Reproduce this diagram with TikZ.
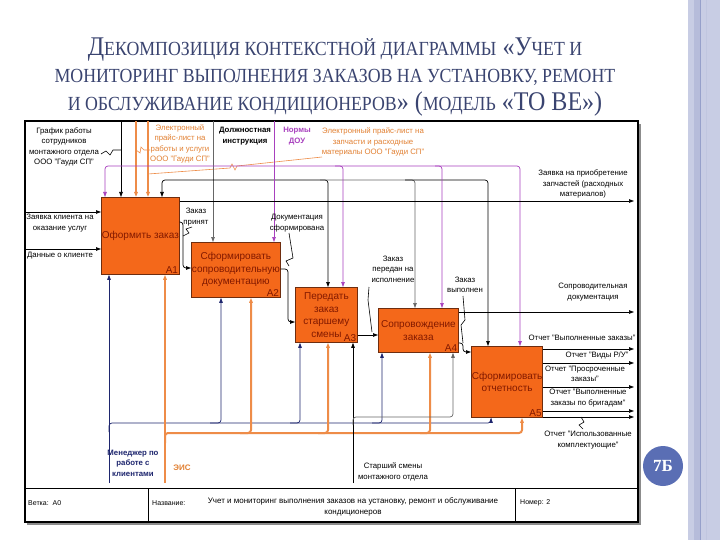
\documentclass[tikz,border=0pt]{standalone}
\usepackage{fontspec}
\setmainfont{Liberation Sans}
\newfontfamily\titlefont[FakeStretch=0.89]{Liberation Serif}
\newfontfamily\badgefont{Liberation Serif}
\usetikzlibrary{arrows.meta}
\definecolor{boxfill}{RGB}{244,104,26}
\definecolor{boxline}{RGB}{110,45,15}
\definecolor{boxtext}{RGB}{130,25,0}
\definecolor{ttl}{RGB}{58,68,112}
\definecolor{ora}{RGB}{238,140,72}
\definecolor{oratext}{RGB}{226,128,50}
\definecolor{pur}{RGB}{168,64,190}
\definecolor{nav}{RGB}{30,38,110}
\definecolor{badge}{RGB}{90,110,180}
\definecolor{strip}{RGB}{200,205,228}
\definecolor{stripdk}{RGB}{150,160,202}
\newcommand\sm[1]{{\fontsize{20}{27}\selectfont #1}}

\begin{document}
\begin{tikzpicture}[x=1pt,y=-1pt,
  box/.style={draw=boxline,line width=0.8pt,fill=boxfill,text=boxtext,
    font=\fontsize{10}{12.5}\selectfont,align=center,inner sep=0.5pt,anchor=north west},
  num/.style={anchor=south east,text=boxtext,font=\fontsize{10}{10}\selectfont,inner sep=1.5pt},
  lbl/.style={font=\fontsize{7.8}{10.5}\selectfont,align=center,inner sep=0pt},
  foot/.style={font=\fontsize{7}{11}\selectfont,align=center,inner sep=0pt},
  arr/.style={-{Triangle[length=5pt,width=3.5pt]},line width=0.7pt,rounded corners=3pt},
  blk/.style={arr,black},
  gry/.style={arr,black!60},
  pline/.style={arr,pur},
  oline/.style={arr,ora,line width=2pt},
  nline/.style={arr,nav},
  zig/.style={line width=0.6pt}]
\useasboundingbox (0,0) rectangle (720,540);
\fill[white] (0,0) rectangle (720,540);
\fill[strip] (688,0) rectangle (720,540);
\fill[stripdk!70] (694,0) rectangle (701,540);
\draw[stripdk,line width=0.8pt] (700,0) -- (700,540);
\draw[stripdk!60,line width=0.6pt] (706,0) -- (706,540);

\node[text=ttl,font=\titlefont\fontsize{27}{27.5}\selectfont,align=center] (title) at (335,77)
  {Д\sm{ЕКОМПОЗИЦИЯ КОНТЕКСТНОЙ ДИАГРАММЫ} «У\sm{ЧЕТ И}\\
   \sm{МОНИТОРИНГ ВЫПОЛНЕНИЯ ЗАКАЗОВ НА УСТАНОВКУ, РЕМОНТ}\\
   \sm{И ОБСЛУЖИВАНИЕ КОНДИЦИОНЕРОВ}» (\sm{МОДЕЛЬ} «ТО ВЕ»)};

\fill[black!45] (27,124) rectangle (641,525);
\draw[line width=1.2pt,fill=white] (25,121) rectangle (638,522);
\draw[line width=1pt] (25,488) -- (638,488);
\draw[line width=1pt] (148,488) -- (148,522);
\draw[line width=1pt] (515,488) -- (515,522);
\node[foot,anchor=west] (f1) at (28,503) {Ветка:\ \ А0};
\node[foot,anchor=west] (f2) at (152,503) {Название:};
\node[foot,font=\fontsize{8}{11}\selectfont] (f3) at (353,507) {Учет и мониторинг выполнения заказов на установку, ремонт и обслуживание\\кондиционеров};
\node[foot,anchor=west] (f4) at (520,503) {Номер: 2};

\node[box,minimum width=72pt,minimum height=77pt] (a1) at (101,197) {Оформить заказ};
\node[box,minimum width=86pt,minimum height=55pt] (a2) at (191,242) {Сформировать\\сопроводительную\\документацию};
\node[box,minimum width=62pt,minimum height=55pt] (a3) at (295,287) {Передать\\заказ\\старшему\\смены};
\node[box,minimum width=80pt,minimum height=44pt] (a4) at (378,308) {Сопровождение\\заказа};
\node[box,minimum width=67pt,minimum height=71pt] (a5) at (471,346) {Сформировать\\отчетность};
\node[num] (n1) at (a1.south east) {А1};
\node[num] (n2) at (a2.south east) {А2};
\node[num] (n3) at (a3.south east) {А3};
\node[num] (n4) at (a4.south east) {А4};
\node[num] (n5) at (a5.south east) {А5};

\coordinate (in1) at (25,212);
\coordinate (in2) at (25,249);
\draw[blk] (in1) -- (in1 -| a1.west);
\draw[blk] (in2) -- (in2 -| a1.west);
\node[lbl] (l1) at (60,223) {Заявка клиента на\\оказание услуг};
\node[lbl] (l2) at (60,256) {Данные о клиенте};

\coordinate (c1) at (121,121);
\coordinate (c2) at (136,121);
\coordinate (c3) at (148,121);
\coordinate (c4) at (213,121);
\coordinate (c5) at (274,121);
\draw[blk] (c1) -- (c1 |- a1.north);
\draw[oline] (c2) -- (c2 |- a1.north);
\draw[oline] (c3) -- (c3 |- a1.north);
\node[lbl] (l3) at (64,147) {График работы\\сотрудников\\монтажного отдела\\ООО "Гауди СП"};
\draw[zig] (101,154) -- (106,151) -- (110,155) -- (113,150) -- (121,150);
\node[lbl,text=oratext] (l4) at (180,144) {Электронный\\прайс-лист на\\работы и услуги\\ООО "Гауди СП"};
\draw[zig,ora] (150,150) -- (144,150) -- (141,147) -- (140,153) -- (136,150);
\node[lbl,text=oratext] (l5) at (373,142) {Электронный прайс-лист на\\запчасти и расходные\\материалы ООО "Гауди СП"};
\draw[zig,ora] (322,157) -- (237,166) -- (235,170) -- (232,164) -- (230,168) -- (148,174);

\draw[gry] (c4) -- (c4 |- a2.north);
\node[lbl] (l6) at (245,136) {\bfseries Должностная\\\bfseries инструкция};
\draw[blk] (213,180) -- (162,180) -- (162,180 |- a1.north);
\draw[blk] (213,180) -- (328,180) -- (328,180 |- a3.north);
\draw[gry] (320,180) -- (415,180) -- (415,180 |- a4.north);
\draw[blk] (405,180) -- (488,180) -- (488,180 |- a5.north);

\draw[pline] (c5) -- (c5 |- a2.north);
\node[lbl,text=pur] (l7) at (297,136) {\bfseries Нормы\\\bfseries ДОУ};
\draw[pline] (274,166) -- (105,166) -- (105,166 |- a1.north);
\draw[pline] (274,166) -- (343,166) -- (343,166 |- a3.north);
\draw[pline] (335,166) -- (442,166) -- (442,166 |- a4.north);
\draw[pline] (435,166) -- (520,166) -- (520,166 |- a5.north);

\draw[blk] (a1.east |- 0,201) -- (634,201);
\node[lbl] (l8) at (583,184) {Заявка на приобретение\\запчастей (расходных\\материалов)};
\draw[blk] (a1.east |- 0,222) -- (183,222) -- (183,268) -- (a2.west |- 0,268);
\node[lbl] (l9) at (196,217) {Заказ\\принят};
\draw[zig] (192,227) -- (186,229) -- (189,233) -- (183,236);
\draw[blk] (a2.east |- 0,269) -- (288,269) -- (288,322) -- (a3.west |- 0,322);
\node[lbl] (l10) at (297,223) {Документация\\сформирована};
\draw[zig] (289,233) -- (293,258) -- (286,261) -- (289,266);
\draw[blk] (a3.east |- 0,335) -- (a4.west |- 0,335);
\node[lbl] (l11) at (393,269) {Заказ\\передан на\\исполнение};
\draw[zig] (369,287) -- (368,300) -- (372,332);
\draw[blk] (a4.east |- 0,343) -- (463,343) -- (463,352) -- (a5.west |- 0,352);
\node[lbl] (l12) at (465,285) {Заказ\\выполнен};
\draw[zig] (463,296) -- (465,320) -- (461,325) -- (463,343);
\draw[blk] (a4.east |- 0,312) -- (634,312);
\node[lbl] (l13) at (593,292) {Сопроводительная\\документация};

\draw[blk] (a5.east |- 0,349) -- (634,349);
\draw[blk] (a5.east |- 0,363) -- (634,363);
\draw[blk] (a5.east |- 0,387) -- (634,387);
\draw[blk] (a5.east |- 0,411) -- (634,411);
\draw[blk] (a5.east |- 0,417) -- (634,417);
\node[lbl] (l14) at (582,338) {Отчет "Выполненные заказы"};
\node[lbl] (l15) at (597,355) {Отчет "Виды Р/У"};
\node[lbl] (l16) at (585,374) {Отчет "Просроченные\\заказы"};
\node[lbl] (l17) at (588,398) {Отчет "Выполненные\\заказы по бригадам"};
\node[lbl] (l18) at (588,440) {Отчет "Использованные\\комплектующие"};
\draw[zig] (583,429) -- (579,425) -- (584,422) -- (581,417);

\coordinate (m1) at (109,483);
\coordinate (m2) at (165,483);
\coordinate (m3) at (353,483);
\draw[nline] (m1) -- (m1 |- a1.south);
\draw[nline] (109,432) -- (109,423) -- (491,423) -- (491,423 |- a5.south);
\draw[nline] (210,423) -- (221,423) -- (221,423 |- a2.south);
\draw[nline] (290,423) -- (300,423) -- (300,423 |- a3.south);
\draw[nline] (372,423) -- (382,423) -- (382,423 |- a4.south);
\node[lbl,text=nav] (l19) at (133,463) {\bfseries Менеджер по\\\bfseries работе с\\\bfseries клиентами};
\draw[oline] (m2) -- (m2 |- a1.south);
\draw[oline] (165,443) -- (165,433) -- (522,433) -- (522,433 |- a5.south);
\draw[oline] (240,433) -- (251,433) -- (251,433 |- a2.south);
\draw[oline] (318,433) -- (328,433) -- (328,433 |- a3.south);
\draw[oline] (420,433) -- (430,433) -- (430,433 |- a4.south);
\node[lbl,text=oratext,font=\bfseries\fontsize{8}{10}\selectfont] (l20) at (182,468) {ЭИС};
\draw[blk] (m3) -- (m3 |- a3.south);
\draw[gry] (353,425) -- (353,417) -- (453,417) -- (453,417 |- a4.south);
\node[lbl] (l21) at (393,472) {Старший смены\\монтажного отдела};

\node[circle,fill=badge,minimum size=40pt,inner sep=0pt,text=white,
  font=\badgefont\bfseries\fontsize{17}{17}\selectfont] (badge) at (663,466) {7Б};
\end{tikzpicture}
\end{document}
